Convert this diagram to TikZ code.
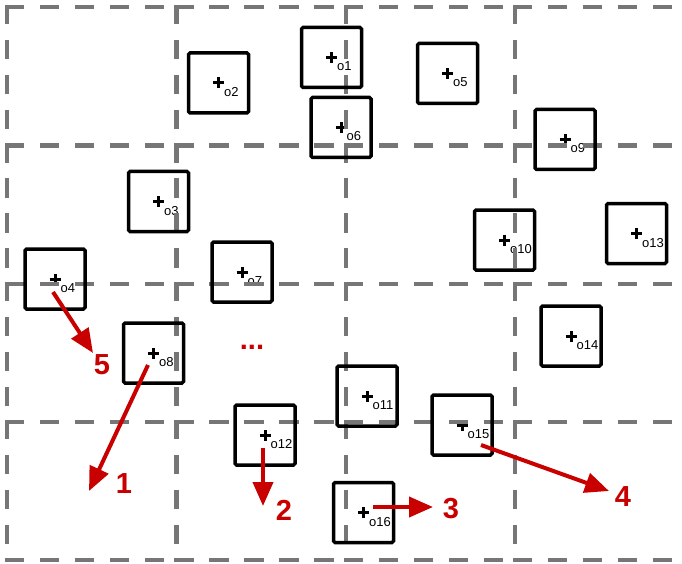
\documentclass[tikz,border=0pt]{standalone}
\usepackage{fontspec}
\setmainfont{Liberation Sans}
\usetikzlibrary{arrows.meta,calc}
\definecolor{gridgray}{RGB}{118,118,118}
\definecolor{arrowred}{RGB}{200,0,0}

\begin{document}
\begin{tikzpicture}[x=1pt,y=-1pt,
  objbox/.style={draw=black, line width=3.5pt, minimum size=60pt, inner sep=0pt, rounded corners=1.5pt},
  objmark/.style={draw=black, line width=3pt},
  objlabel/.style={anchor=base west, inner sep=0pt, font=\fontsize{13}{13}\selectfont},
  cellline/.style={draw=gridgray, line width=4.5pt, dash pattern=on 15pt off 20pt, line cap=rect},
  move/.style={draw=arrowred, line width=4pt, -{Triangle[length=24pt,width=20pt]}},
  movelabel/.style={text=arrowred, inner sep=0pt, font=\fontsize{29}{29}\selectfont\bfseries},
]
\useasboundingbox (0,0) rectangle (682,564);

% object positions (centre of each square)
\foreach \n/\x/\y in {1/331.5/57.5, 2/218.5/83, 3/158.5/201.5, 4/55/279,
                      5/447.5/73.5, 6/341/127.5, 7/242/272, 8/153.5/353,
                      9/565/139.5, 10/504.5/240, 11/367/396, 12/265/435,
                      13/636.5/233.5, 14/571/336, 15/462/425, 16/363.5/512.5}
  {\coordinate (m\n) at (\x,\y);}

% centre markers and object names
\foreach \n in {1,...,16} {
  \draw[objmark] ([xshift=-5.5pt]m\n) -- ([xshift=5.5pt]m\n)
                 ([yshift=-5.5pt]m\n) -- ([yshift=5.5pt]m\n);
  \node[objlabel] (t\n) at ($(m\n)+(5.5,13.5)$) {o\n};
}

% dashed cell grid, each cell edge drawn on its own
\foreach \y in {7,145.5,284,422,560}
  \foreach \xa/\xb in {7/176.5,176.5/346,346/515,515/684}
    \draw[cellline] (\xa,\y) -- (\xb,\y);
\foreach \x in {7,176.5,346,515}
  \foreach \ya/\yb in {7/145.5,145.5/284,284/422,422/560}
    \draw[cellline] (\x,\ya) -- (\x,\yb);

% object squares
\foreach \n in {1,...,16}
  \node[objbox] (b\n) at (m\n) {};

% movement arrows with their ranks
\coordinate (s5) at (53,292);   \coordinate (e5) at (93,353);
\coordinate (s1) at (148,365);  \coordinate (e1) at (89,491);
\coordinate (s2) at (263,448);  \coordinate (e2) at (263,506);
\coordinate (s3) at (373,507);  \coordinate (e3) at (433,507);
\coordinate (s4) at (481,445);  \coordinate (e4) at (609,491);

\draw[move] (s5) -- (e5);
\draw[move] (s1) -- (e1);
\draw[move] (s2) -- (e2);
\draw[move] (s3) -- (e3);
\draw[move] (s4) -- (e4);

\node[movelabel] (l5) at (102,365) {5};
\node[movelabel] (l1) at (124,484) {1};
\node[movelabel] (l2) at (284,510) {2};
\node[movelabel] (l3) at (451,509) {3};
\node[movelabel] (l4) at (623,497) {4};
\node[movelabel] (dots) at (252,347) {...};
\end{tikzpicture}
\end{document}
